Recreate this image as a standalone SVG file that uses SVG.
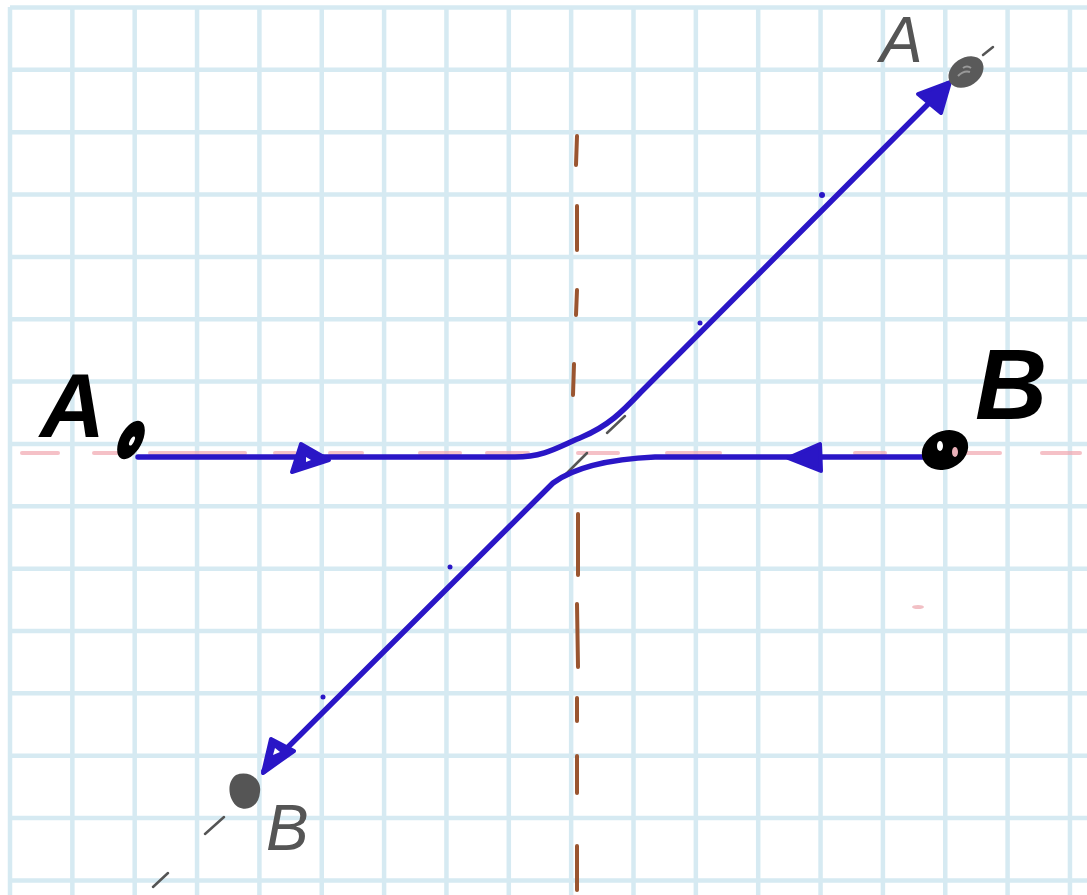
<svg xmlns="http://www.w3.org/2000/svg" width="1087" height="895" viewBox="0 0 1087 895">
<defs>
<style>
.grid line{stroke:#d6eaf2;stroke-width:4.5}
.pink line{stroke:#f2a7b0;stroke-width:4;stroke-linecap:round;opacity:0.7}
.conn{fill:none;stroke:#2a16c6;stroke-width:5.5;stroke-linecap:round;stroke-linejoin:round}
.head{fill:#2a16c6;stroke:#2a16c6;stroke-width:4;stroke-linejoin:round}
.gdash{stroke:#555;stroke-width:2.5;stroke-linecap:round}
.brown{stroke:#9a5530;stroke-width:4;stroke-linecap:round}
.big{font-family:"Liberation Sans",Arial,sans-serif;font-style:italic;font-weight:bold;fill:#000}
.small{font-family:"Liberation Sans",Arial,sans-serif;font-style:italic;fill:#555}
.dot{fill:#2a16c6}
</style>
</defs>
<rect width="1087" height="895" fill="#fff"/>
<g class="grid" id="grid">
<line x1="10" y1="7" x2="10" y2="895"/><line x1="72.35" y1="7" x2="72.35" y2="895"/><line x1="134.7" y1="7" x2="134.7" y2="895"/><line x1="197.05" y1="7" x2="197.05" y2="895"/><line x1="259.4" y1="7" x2="259.4" y2="895"/><line x1="321.75" y1="7" x2="321.75" y2="895"/><line x1="384.1" y1="7" x2="384.1" y2="895"/><line x1="446.45" y1="7" x2="446.45" y2="895"/><line x1="508.8" y1="7" x2="508.8" y2="895"/><line x1="571.15" y1="7" x2="571.15" y2="895"/><line x1="633.5" y1="7" x2="633.5" y2="895"/><line x1="695.85" y1="7" x2="695.85" y2="895"/><line x1="758.2" y1="7" x2="758.2" y2="895"/><line x1="820.55" y1="7" x2="820.55" y2="895"/><line x1="882.9" y1="7" x2="882.9" y2="895"/><line x1="945.25" y1="7" x2="945.25" y2="895"/><line x1="1007.6" y1="7" x2="1007.6" y2="895"/><line x1="1069.95" y1="7" x2="1069.95" y2="895"/>
<line x1="10" y1="7.5" x2="1087" y2="7.5"/><line x1="10" y1="69.85" x2="1087" y2="69.85"/><line x1="10" y1="132.2" x2="1087" y2="132.2"/><line x1="10" y1="194.55" x2="1087" y2="194.55"/><line x1="10" y1="256.9" x2="1087" y2="256.9"/><line x1="10" y1="319.25" x2="1087" y2="319.25"/><line x1="10" y1="381.6" x2="1087" y2="381.6"/><line x1="10" y1="443.95" x2="1087" y2="443.95"/><line x1="10" y1="506.3" x2="1087" y2="506.3"/><line x1="10" y1="568.65" x2="1087" y2="568.65"/><line x1="10" y1="631" x2="1087" y2="631"/><line x1="10" y1="693.35" x2="1087" y2="693.35"/><line x1="10" y1="755.7" x2="1087" y2="755.7"/><line x1="10" y1="818.05" x2="1087" y2="818.05"/><line x1="10" y1="880.4" x2="1087" y2="880.4"/>
</g>
<g class="pink" id="axis-horizontal">
<line x1="22" y1="453" x2="58" y2="453"/><line x1="94" y1="453" x2="133" y2="453"/><line x1="150" y1="453" x2="245" y2="453"/><line x1="275" y1="453" x2="295" y2="453"/><line x1="330" y1="453" x2="362" y2="453"/><line x1="420" y1="453" x2="460" y2="453"/><line x1="487" y1="453" x2="528" y2="453"/><line x1="578" y1="453" x2="618" y2="453"/><line x1="667" y1="453" x2="720" y2="453"/><line x1="855" y1="453" x2="885" y2="453"/><line x1="967" y1="453" x2="1000" y2="453"/><line x1="1042" y1="453" x2="1080" y2="453"/>
<ellipse cx="918" cy="607" rx="6" ry="2" fill="#f2c0c5" stroke="none"/>
</g>
<g id="axis-vertical" class="brown">
<line x1="577" y1="136" x2="576" y2="165"/><line x1="577" y1="206" x2="577" y2="250"/><line x1="577" y1="290" x2="576" y2="315"/><line x1="574" y1="364" x2="573" y2="395"/><line x1="578" y1="514" x2="578" y2="575"/><line x1="577" y1="604" x2="578" y2="667"/><line x1="577" y1="698" x2="577" y2="721"/><line x1="577" y1="756" x2="577" y2="793"/><line x1="577" y1="846" x2="577" y2="890"/>
</g>
<g id="diagonal-guide">
<line class="gdash" x1="983" y1="55" x2="993" y2="47"/><line class="gdash" x1="607" y1="433" x2="625" y2="416"/><line class="gdash" x1="565" y1="475" x2="587" y2="453"/><line class="gdash" x1="205" y1="834" x2="224" y2="817"/><line class="gdash" x1="153" y1="887" x2="168" y2="873"/>
</g>
<g id="connectors">
<path class="conn" d="M138,457 L515,457 C545,457 560,446 582,437 C608,426 622,412 640,393 L948,84"/>
<path class="conn" d="M940,457 L655,457 C612,459 576,466 553,483 L264,771"/>
<path class="head" d="M329,460 L301,444 L292,472 Z"/>
<path class="head" d="M788,458 L820,444 L821,471 Z"/>
<path class="head" d="M950,82 L918,94 L941,113 Z"/>
<path class="head" d="M263,773 L271,739 L294,751 Z"/>
<path d="M306,457 L311,460 L306,462 Z" fill="#fff"/>
<path d="M273,755 L275,748 L280,752 Z" fill="#fff"/>
<circle class="dot" cx="822" cy="195" r="3"/><circle class="dot" cx="700" cy="323" r="2.5"/><circle class="dot" cx="450" cy="567" r="2.5"/><circle class="dot" cx="323" cy="697" r="2.5"/>
</g>
<g id="node-A-start">
<ellipse cx="131" cy="440" rx="11" ry="21" transform="rotate(28 131 440)" fill="#000"/>
<ellipse cx="132" cy="441" rx="2" ry="5" transform="rotate(28 132 441)" fill="#fff"/>
<text class="big" x="40" y="437" font-size="90">A</text>
</g>
<g id="node-B-start">
<ellipse cx="945" cy="450" rx="24" ry="19" transform="rotate(-25 945 450)" fill="#000"/>
<ellipse cx="940" cy="446" rx="3" ry="5" fill="#fff"/>
<ellipse cx="955" cy="452" rx="3" ry="5" fill="#e9b0b8"/>
<text class="big" x="975" y="419" font-size="100">B</text>
</g>
<g id="node-A-end">
<ellipse cx="966" cy="72" rx="19" ry="14" transform="rotate(-35 966 72)" fill="#5a5a5a"/>
<path d="M958,76 q6,-6 12,-4 M963,68 q4,-3 8,0" stroke="#999" stroke-width="2" fill="none"/>
<text class="small" x="880" y="62" font-size="64">A</text>
</g>
<g id="node-B-end">
<path d="M236,775 C248,770 262,778 260,792 C259,806 248,812 238,807 C228,800 226,782 236,775 Z" fill="#555"/>
<text class="small" x="266" y="850" font-size="64">B</text>
</g>
</svg>
